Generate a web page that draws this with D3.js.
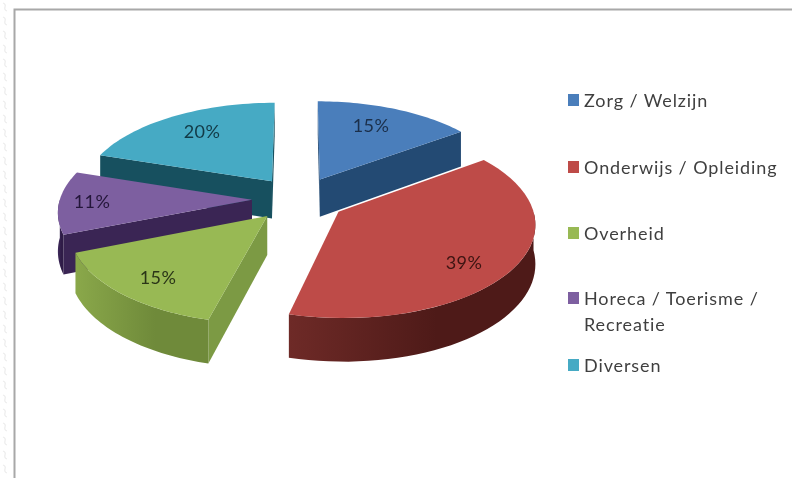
<!DOCTYPE html>
<html><head><meta charset="utf-8">
<script src="https://cdn.jsdelivr.net/npm/d3@7"></script>
<style>html,body{margin:0;padding:0;background:#fff}svg{display:block}</style>
</head><body><svg id="c" width="792" height="478"></svg>
<script>
const categories=["Zorg / Welzijn","Onderwijs / Opleiding","Overheid","Horeca / Toerisme /\nRecreatie","Diversen"];
const values=[15,39,15,11,20];
const topColors=["#4a7ebb","#be4b48","#98b954","#7d5fa0","#46aac4"];
const cutColors=["#234a73","#5c1f1d","#7c9a44","#3a2554","#17505f"];
const wallDark=["#234a73","#4e1a18","#6f8a3a","#2f1c47","#17505f"];
const wallLight=["#2b5683","#6e2a27","#8aa84a","#3f2a5c","#1c5c6c"];

const cx=299,cy=199,R=192,tilt=0.475,persp=0.113,explode=47,depth=38;
const svg=d3.select("#c");
const defs=svg.append("defs");
const pat=defs.append("pattern").attr("id","noise").attr("patternUnits","userSpaceOnUse").attr("width",12).attr("height",14);
pat.append("path").attr("d","M3 3q3 1 2 4t2 4").attr("fill","none").attr("stroke","#ececec").attr("stroke-width",1.2);
svg.append("rect").attr("x",0).attr("y",0).attr("width",13).attr("height",478).attr("fill","url(#noise)");
svg.append("path").attr("d","M14.5 478V9.5H792").attr("fill","none").attr("stroke","#a8a8a8").attr("stroke-width",2);

const pie=d3.pie().sort(null).value(d=>d);
const arcs=pie(values);

function project(X,Y,down){
  const s=1/(1+persp*Y/R);
  return [cx+X*s, cy-Y*tilt*s+(down?depth*s:0)];
}
const ring=(a0,a1)=>d3.range(0,41).map(i=>a0+(a1-a0)*i/40);
const path=d3.line();

const slices=arcs.map((a,i)=>{
  const mid=(a.startAngle+a.endAngle)/2, ox=explode*Math.sin(mid), oy=explode*Math.cos(mid);
  const pt=(t,r,down)=>project(ox+r*Math.sin(t),oy+r*Math.cos(t),down);
  return {a,i,pt,apex:pt(0,0,false)};
}).sort((p,q)=>p.apex[1]-q.apex[1]);

slices.forEach(({a,i,pt})=>{
  const g=svg.append("g");
  const apex=pt(0,0,false), apexD=pt(0,0,true), m=pt((a.startAngle+a.endAngle)/2,R,false);
  [a.startAngle,a.endAngle].forEach(t=>{
    const e=pt(t,R,false), eD=pt(t,R,true);
    const yLine=apex[1]+(e[1]-apex[1])*(m[0]-apex[0])/(e[0]-apex[0]);
    if(m[1]<yLine) g.append("path").attr("d",path([apex,e,eD,apexD])+"Z").attr("fill",cutColors[i]);
  });
  const w0=Math.max(a.startAngle,Math.PI/2), w1=Math.min(a.endAngle,Math.PI*1.5);
  if(w1>w0){
    const pts=ring(w0,w1);
    const poly=pts.map(t=>pt(t,R,false)).concat(pts.slice().reverse().map(t=>pt(t,R,true)));
    const xs=d3.extent(poly,d=>d[0]);
    const id="wall"+i;
    const gr=defs.append("linearGradient").attr("id",id).attr("gradientUnits","userSpaceOnUse")
      .attr("x1",xs[0]).attr("x2",xs[1]).attr("y1",0).attr("y2",0);
    gr.append("stop").attr("offset",0).attr("stop-color",wallLight[i]);
    gr.append("stop").attr("offset",.6).attr("stop-color",wallDark[i]);
    gr.append("stop").attr("offset",1).attr("stop-color",wallDark[i]);
    g.append("path").attr("d",path(poly)+"Z").attr("fill",`url(#${id})`);
  }
  const top=[apex].concat(ring(a.startAngle,a.endAngle).map(t=>pt(t,R,false)));
  g.append("path").attr("d",path(top)+"Z").attr("fill",topColors[i]);
});

const labelPos=[[371,127],[464,264],[158,279],[92,203],[202,133]];
const labelColors=["#1b2f4a","#3c1412","#2a3518","#24163a","#123a46"];
svg.append("g").selectAll("text").data(arcs).join("text")
  .attr("x",(d,i)=>labelPos[i][0]).attr("y",(d,i)=>labelPos[i][1])
  .attr("text-anchor","middle").attr("dominant-baseline","middle")
  .attr("font-family","Lato,sans-serif").attr("font-size",18).attr("letter-spacing",.4)
  .attr("fill",(d,i)=>labelColors[i]).text(d=>d.data+"%");

const swatchY=[100,167,233,298,365];
const leg=svg.append("g").selectAll("g").data(categories).join("g");
leg.append("rect").attr("x",568).attr("y",(d,i)=>swatchY[i]-6).attr("width",11).attr("height",12).attr("fill",(d,i)=>topColors[i]);
leg.each(function(d,i){
  d.split("\n").forEach((line,j)=>{
    d3.select(this).append("text").attr("x",584).attr("y",swatchY[i]+7+j*26)
      .attr("font-family","Lato,sans-serif").attr("font-size",18).attr("letter-spacing",.9).attr("fill","#3f3f3f").text(line);
  });
});
svg.style("filter","blur(0.5px)");
</script></body></html>
